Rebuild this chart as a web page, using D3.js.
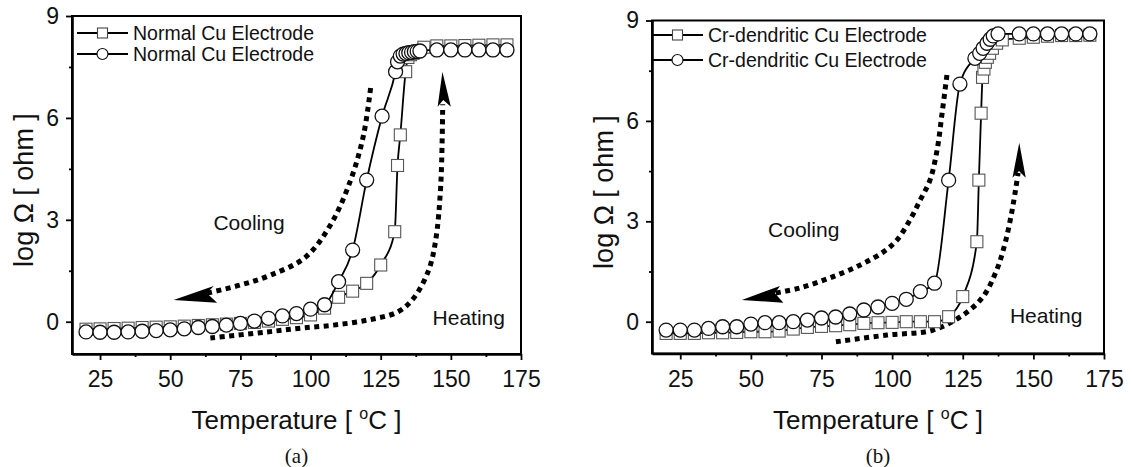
<!DOCTYPE html>
<html lang="en">
<head>
<meta charset="utf-8">
<title>log resistance vs temperature</title>
<script src="https://cdnjs.cloudflare.com/ajax/libs/d3/7.8.5/d3.min.js"></script>
<style>
  body { margin: 0; background: #fff; }
  svg text { font-family: "Liberation Sans", Arial, Helvetica, sans-serif; fill: #111; }
  svg text.caption { font-family: "Liberation Serif", "Times New Roman", serif; }
</style>
</head>
<body>
<svg id="chart" width="1132" height="467"></svg>
<script>
// axis setup
const xDomain = [15, 175];
const yDomain = [-0.95, 9];
const xTicks = [25, 50, 75, 100, 125, 150, 175];
const xMinor = [37.5, 62.5, 87.5, 112.5, 137.5, 162.5];
const yTicks = [0, 3, 6, 9];
const yMinor = [1.5, 4.5, 7.5];

// (a) normal Cu electrode - heating (squares)
const heatA_T = [20,25,30,35,40,45,50,55,60,65,70,75,80,85,90,95,100,105,110,115,120,125,130,131,132,133.9,134.7,135.6,136.5,137.6,140.4,145,150,155,160,165,170];
const heatA_V = [-0.22,-0.21,-0.2,-0.19,-0.17,-0.16,-0.15,-0.13,-0.11,-0.09,-0.07,-0.05,-0.02,0.02,0.07,0.12,0.2,0.4,0.72,0.9,1.13,1.67,2.65,4.6,5.5,7.36,7.78,7.86,7.9,7.95,8.08,8.12,8.12,8.13,8.14,8.15,8.15];
// (a) normal Cu electrode - cooling (circles)
const coolA_T = [20,25,30,35,40,45,50,55,60,65,70,75,80,85,90,95,100,105,110,115,120,125.5,130.3,131,132,133,134,135,136,137,138,139,145,150,155,160,165,170];
const coolA_V = [-0.3,-0.31,-0.31,-0.3,-0.28,-0.26,-0.24,-0.21,-0.17,-0.14,-0.1,-0.05,0.02,0.1,0.17,0.24,0.37,0.5,1.18,2.11,4.17,6.05,7.36,7.65,7.82,7.88,7.9,7.92,7.93,7.95,7.96,7.97,8.0,8.0,8.0,8.0,8.0,8.0];

// (b) Cr-dendritic Cu electrode - heating (squares)
const heatB_T = [20,25,30,35,40,45,50,55,60,65,70,75,80,85,90,95,100,105,110,115,120,125,130,130.7,131.5,132,132.5,133,133.7,134.5,135.5,137,139,145,150,155,160,165,170];
const heatB_V = [-0.35,-0.35,-0.35,-0.33,-0.33,-0.32,-0.3,-0.3,-0.28,-0.22,-0.17,-0.14,-0.12,-0.09,-0.05,-0.03,-0.02,0,0,0,0.15,0.75,2.39,4.23,6.23,7.3,7.55,7.75,7.9,8.02,8.17,8.32,8.42,8.47,8.5,8.53,8.55,8.55,8.56];
// (b) Cr-dendritic Cu electrode - cooling (circles)
const coolB_T = [20,25,30,35,40,45,50,55,60,65,70,75,80,85,90,95,100,105,110,115,120,124,129.3,131,132.2,133.6,134.7,135.8,137.5,145,150,155,160,165,170];
const coolB_V = [-0.25,-0.25,-0.25,-0.2,-0.15,-0.15,-0.07,-0.03,-0.03,0,0.05,0.11,0.14,0.23,0.35,0.44,0.55,0.67,0.9,1.15,4.23,7.1,7.87,8.02,8.17,8.32,8.44,8.54,8.6,8.6,8.6,8.6,8.6,8.6,8.6];

// dotted guide arrows, as [T, logΩ] points
const coolArrowA = [[121.4,6.88],[118.9,5.5],[114.3,4.17],[107.1,2.85],[98.2,1.9],[85.7,1.37],[75,1.08],[63.1,0.84]];
const coolHeadA = [[51.2,0.64],[65.5,1.05],[63.1,0.84],[66.7,0.56]];
const heatArrowA = [[64.3,-0.48],[84.6,-0.3],[96.4,-0.19],[108.2,-0.1],[120.4,0.05],[131.1,0.29],[136.8,0.7],[142.1,1.52],[144.6,2.4],[146.4,4.02],[147.1,6.4]];
const heatHeadA = [[147.0,7.36],[145.3,6.33],[147.3,6.53],[150,6.33]];
const coolArrowB = [[119.4,7.37],[117.7,6.24],[115.9,5.12],[113.4,4.23],[109.9,3.63],[106.3,3.04],[101.7,2.44],[96.8,2.08],[88.6,1.69],[78,1.31],[67.4,1.01],[58.5,0.85]];
const coolHeadB = [[46.8,0.65],[60.3,1.07],[58.5,0.85],[61.5,0.57]];
const heatArrowB = [[80.1,-0.6],[98.1,-0.4],[114.5,-0.25],[125.1,0.2],[132.2,0.75],[137,1.54],[140,2.35],[142.3,3.25],[143.8,4.0],[144.6,4.45]];
const heatHeadB = [[145.0,5.35],[142.6,4.3],[144.9,4.5],[147.3,4.3]];

const svg = d3.select("#chart");
svg.append("rect").attr("width", 1132).attr("height", 467).attr("fill", "#fff");

function drawPanel(p) {
  const x = d3.scaleLinear().domain(xDomain).range([p.left, p.right]);
  const y = d3.scaleLinear().domain(yDomain).range([p.bottom, p.top]);
  const g = svg.append("g");

  // frame
  g.append("rect")
    .attr("x", p.left).attr("y", p.top)
    .attr("width", p.right - p.left).attr("height", p.bottom - p.top)
    .attr("fill", "none").attr("stroke", "#000").attr("stroke-width", 2);

  // x axis
  const xa = g.append("g").attr("transform", `translate(0,${p.bottom})`)
    .call(d3.axisBottom(x).tickValues(xTicks).tickSize(6).tickSizeOuter(0).tickPadding(11));
  const xm = g.append("g").attr("transform", `translate(0,${p.bottom})`)
    .call(d3.axisBottom(x).tickValues(xMinor).tickSize(3).tickSizeOuter(0).tickFormat(""));
  // y axis
  const ya = g.append("g").attr("transform", `translate(${p.left},0)`)
    .call(d3.axisLeft(y).tickValues(yTicks).tickSize(6).tickSizeOuter(0).tickPadding(7));
  const ym = g.append("g").attr("transform", `translate(${p.left},0)`)
    .call(d3.axisLeft(y).tickValues(yMinor).tickSize(3).tickSizeOuter(0).tickFormat(""));
  [xa, xm, ya, ym].forEach(a => {
    a.attr("font-size", null).attr("font-family", null);
    a.selectAll("line").attr("stroke-width", 1.8);
    a.selectAll("text").attr("font-size", 23);
  });
  xa.select(".domain").attr("stroke-width", 2.6);
  ya.select(".domain").attr("stroke-width", 2.6);
  xm.select(".domain").remove();
  ym.select(".domain").remove();

  // axis titles
  const cx = (p.left + p.right) / 2;
  const xt = g.append("text").attr("x", cx).attr("y", p.bottom + 75)
    .attr("text-anchor", "middle").attr("font-size", 26);
  xt.append("tspan").text("Temperature [ ");
  xt.append("tspan").attr("font-size", 16).attr("dy", -10).text("o");
  xt.append("tspan").attr("dy", 10).text("C ]");

  g.append("text")
    .attr("transform", `translate(${p.left - 39},${(p.top + p.bottom) / 2 + 5}) rotate(-90)`)
    .attr("text-anchor", "middle").attr("font-size", 27)
    .text("log \u03A9 [ ohm ]");

  g.append("text").attr("class", "caption")
    .attr("x", cx).attr("y", p.bottom + 109)
    .attr("text-anchor", "middle").attr("font-size", 21)
    .text(p.caption);

  // annotations
  const dotted = d3.line().x(d => x(d[0])).y(d => y(d[1])).curve(d3.curveCatmullRom);
  const head = d3.line().x(d => x(d[0])).y(d => y(d[1]));
  [p.coolArrow, p.heatArrow].forEach(pts => {
    g.append("path").attr("d", dotted(pts))
      .attr("fill", "none").attr("stroke", "#000").attr("stroke-width", 5)
      .attr("stroke-dasharray", "5,4.5");
  });
  [p.coolHead, p.heatHead].forEach(pts => {
    g.append("path").attr("d", head(pts) + "Z").attr("fill", "#000");
  });
  g.append("text").attr("x", x(p.coolLabel[0])).attr("y", y(p.coolLabel[1]))
    .attr("font-size", 21).text("Cooling");
  g.append("text").attr("x", x(p.heatLabel[0])).attr("y", y(p.heatLabel[1]))
    .attr("font-size", 21).text("Heating");

  // series
  const line = d3.line().x(d => x(d[0])).y(d => y(d[1])).curve(d3.curveMonotoneX);
  const sq = d3.zip(p.heatT, p.heatV);
  const ci = d3.zip(p.coolT, p.coolV);

  g.append("path").attr("d", line(sq)).attr("fill", "none").attr("stroke", "#000").attr("stroke-width", 1.8);
  g.append("g").selectAll("rect").data(sq).join("rect")
    .attr("x", d => x(d[0]) - 6).attr("y", d => y(d[1]) - 6)
    .attr("width", 12).attr("height", 12)
    .attr("fill", "#fff").attr("stroke", "#555").attr("stroke-width", 1.1);

  g.append("path").attr("d", line(ci)).attr("fill", "none").attr("stroke", "#000").attr("stroke-width", 1.8);
  g.append("g").selectAll("circle").data(ci).join("circle")
    .attr("cx", d => x(d[0])).attr("cy", d => y(d[1])).attr("r", 7)
    .attr("fill", "#fff").attr("stroke", "#111").attr("stroke-width", 1.3);

  // legend
  const lg = p.legend;
  lg.rows.forEach((ry, i) => {
    g.append("line").attr("x1", lg.x0).attr("x2", lg.x1).attr("y1", ry).attr("y2", ry)
      .attr("stroke", "#000").attr("stroke-width", 2);
    const mx = (lg.x0 + lg.x1) / 2;
    if (i === 0) {
      g.append("rect").attr("x", mx - 5).attr("y", ry - 5).attr("width", 10).attr("height", 10)
        .attr("fill", "#fff").attr("stroke", "#444").attr("stroke-width", 1.1);
    } else {
      g.append("circle").attr("cx", mx).attr("cy", ry).attr("r", 5.5)
        .attr("fill", "#fff").attr("stroke", "#111").attr("stroke-width", 1.2);
    }
    g.append("text").attr("x", lg.x1 + 5).attr("y", ry + 6.5)
      .attr("font-size", 19.5).text(lg.label);
  });
}

drawPanel({
  left: 72, right: 521, top: 16, bottom: 354, caption: "(a)",
  heatT: heatA_T, heatV: heatA_V, coolT: coolA_T, coolV: coolA_V,
  coolArrow: coolArrowA, coolHead: coolHeadA, heatArrow: heatArrowA, heatHead: heatHeadA,
  coolLabel: [65.4, 2.7], heatLabel: [143.5, -0.1],
  legend: { x0: 77, x1: 128, rows: [33, 54], label: "Normal Cu Electrode" }
});

drawPanel({
  left: 652, right: 1104, top: 20.5, bottom: 353.5, caption: "(b)",
  heatT: heatB_T, heatV: heatB_V, coolT: coolB_T, coolV: coolB_V,
  coolArrow: coolArrowB, coolHead: coolHeadB, heatArrow: heatArrowB, heatHead: heatHeadB,
  coolLabel: [56.1, 2.54], heatLabel: [141.7, -0.04],
  legend: { x0: 652, x1: 703, rows: [35, 60], label: "Cr-dendritic Cu Electrode" }
});
</script>
</body>
</html>
